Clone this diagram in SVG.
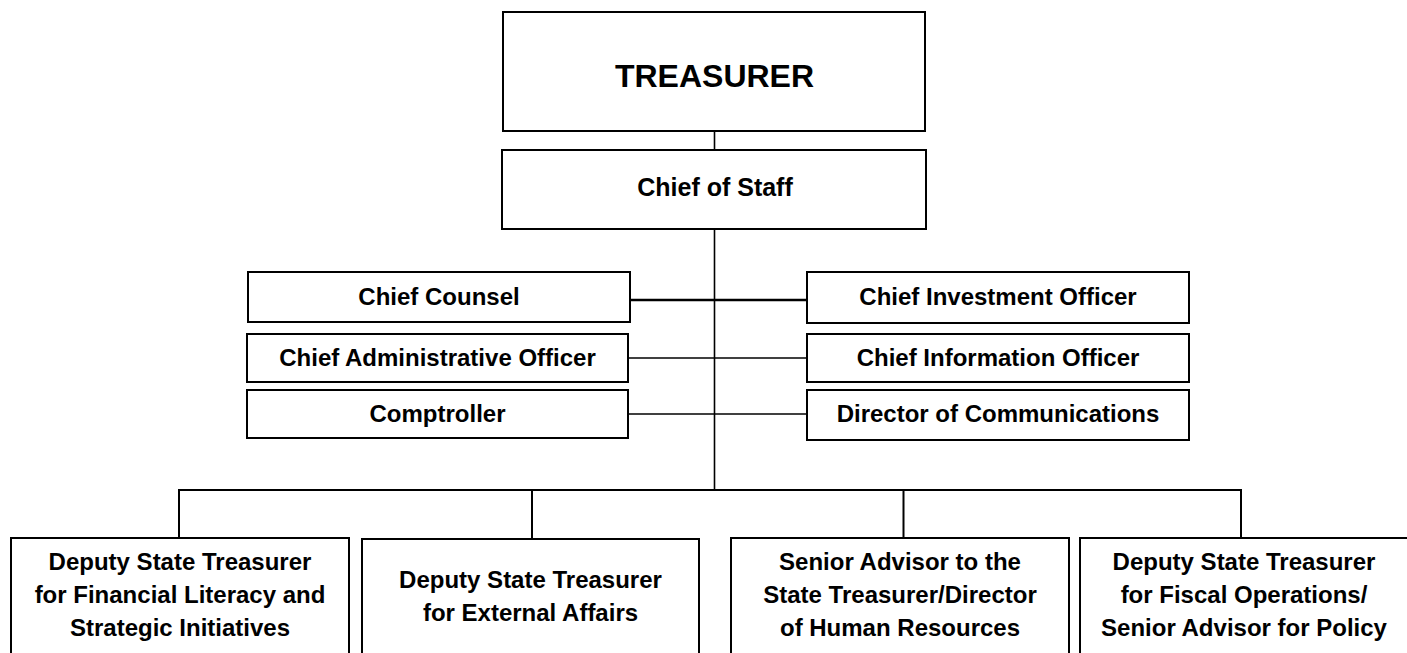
<svg xmlns="http://www.w3.org/2000/svg" width="1407" height="653" viewBox="0 0 1407 653">
<style>
.box{fill:#fff;stroke:#000;stroke-width:2}
.t{font-family:"Liberation Sans",Arial,sans-serif;font-weight:bold;fill:#000;text-anchor:middle}
.m{font-size:24px}
.ln{stroke:#000;stroke-width:2;fill:none}
.thin{stroke:#000;stroke-width:1.6;fill:none}
</style>
<rect width="1407" height="653" fill="#fff"/>
<g id="connectors">
<line class="thin" x1="714.5" y1="131" x2="714.5" y2="150"/>
<line class="thin" x1="714.5" y1="229" x2="714.5" y2="491"/>
<line stroke="#000" stroke-width="2.6" x1="630" y1="300" x2="807" y2="300"/>
<line class="thin" x1="628" y1="358" x2="807" y2="358"/>
<line class="thin" x1="628" y1="414" x2="807" y2="414"/>
<polyline class="ln" points="179,538 179,490 1241,490 1241,538"/>
<line class="ln" x1="532" y1="490" x2="532" y2="539"/>
<line class="ln" x1="903.5" y1="490" x2="903.5" y2="538"/>
</g>
<g id="treasurer">
<rect class="box" x="503" y="12" width="422" height="119"/>
<text class="t" x="714.5" y="87" font-size="32">TREASURER</text>
</g>
<g id="chief-of-staff">
<rect class="box" x="502" y="150" width="424" height="79"/>
<text class="t" x="715" y="196" font-size="25">Chief of Staff</text>
</g>
<g id="chief-counsel">
<rect class="box" x="248" y="272" width="382" height="50"/>
<text class="t m" x="439" y="305">Chief Counsel</text>
</g>
<g id="chief-administrative-officer">
<rect class="box" x="247" y="334" width="381" height="48"/>
<text class="t m" x="437.5" y="366">Chief Administrative Officer</text>
</g>
<g id="comptroller">
<rect class="box" x="247" y="390" width="381" height="48"/>
<text class="t m" x="437.5" y="422">Comptroller</text>
</g>
<g id="chief-investment-officer">
<rect class="box" x="807" y="272" width="382" height="51"/>
<text class="t m" x="998" y="305">Chief Investment Officer</text>
</g>
<g id="chief-information-officer">
<rect class="box" x="807" y="334" width="382" height="48"/>
<text class="t m" x="998" y="366">Chief Information Officer</text>
</g>
<g id="director-of-communications">
<rect class="box" x="807" y="390" width="382" height="50"/>
<text class="t m" x="998" y="422">Director of Communications</text>
</g>
<g id="deputy-financial-literacy">
<rect class="box" x="11" y="538" width="338" height="125"/>
<text class="t m" x="180" y="570">Deputy State Treasurer</text>
<text class="t m" x="180" y="603">for Financial Literacy and</text>
<text class="t m" x="180" y="636">Strategic Initiatives</text>
</g>
<g id="deputy-external-affairs">
<rect class="box" x="362" y="539" width="337" height="124"/>
<text class="t m" x="530.5" y="588">Deputy State Treasurer</text>
<text class="t m" x="530.5" y="621">for External Affairs</text>
</g>
<g id="senior-advisor-hr">
<rect class="box" x="731" y="538" width="338" height="125"/>
<text class="t m" x="900" y="570">Senior Advisor to the</text>
<text class="t m" x="900" y="603">State Treasurer/Director</text>
<text class="t m" x="900" y="636">of Human Resources</text>
</g>
<g id="deputy-fiscal-operations">
<rect class="box" x="1080" y="538" width="330" height="125"/>
<text class="t m" x="1244" y="570">Deputy State Treasurer</text>
<text class="t m" x="1244" y="603">for Fiscal Operations/</text>
<text class="t m" x="1244" y="636">Senior Advisor for Policy</text>
</g>
</svg>
